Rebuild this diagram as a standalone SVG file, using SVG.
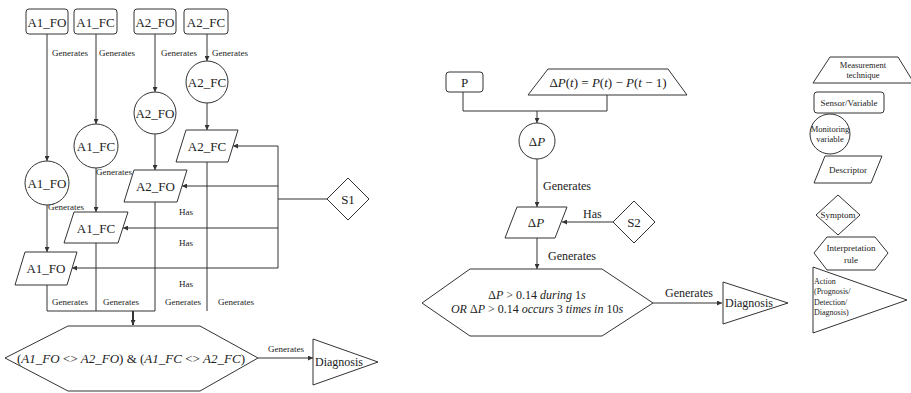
<svg xmlns="http://www.w3.org/2000/svg" width="911" height="393" viewBox="0 0 911 393" font-family="'Liberation Serif', 'Times New Roman', Times, serif">
<defs>
<marker id="ah" viewBox="0 0 6 6" refX="6" refY="3" markerWidth="5" markerHeight="5" orient="auto" markerUnits="userSpaceOnUse"><path d="M0,0L6,3L0,6z" fill="#333"/></marker>
<style>
.s{fill:#fff;stroke:#333;stroke-width:1}
.c{fill:none;stroke:#333;stroke-width:1}
.a{fill:none;stroke:#333;stroke-width:1;marker-end:url(#ah)}
text{font-family:'Liberation Serif','Times New Roman',Times,serif;fill:#222;dominant-baseline:central}
.n{font-size:13px;text-anchor:middle}
.m{font-size:12px;text-anchor:middle}
.g{font-size:9px}
.gm{font-size:12px}
.l{font-size:9px;text-anchor:middle}
.ls{font-size:8px}
.i{font-style:italic}
</style>
</defs>
<rect width="911" height="393" fill="#fff"/>

<g id="connectors">
<path class="a" d="M47,34V161"/>
<path class="a" d="M96,34V124"/>
<path class="a" d="M155,34V92"/>
<path class="a" d="M207,34V61"/>
<path class="a" d="M207,103V130"/>
<path class="a" d="M155,134V170"/>
<path class="a" d="M96,168V212"/>
<path class="a" d="M47,205V252"/>
<path class="c" d="M327,199H278M278,146V268"/>
<path class="a" d="M278,146H233"/>
<path class="a" d="M278,186H182"/>
<path class="a" d="M278,228H123"/>
<path class="a" d="M278,268H72"/>
<path class="c" d="M47,285V311M96,243V311M155,202V311M207,162V311M47,311H155"/>
<path class="a" d="M133,311V325" style="stroke-width:2"/>
<path class="a" d="M258,358H313"/>
<path class="c" d="M463,92V111M607,95V111M463,111H607"/>
<path class="a" d="M537,111V123"/>
<path class="a" d="M537,159V207"/>
<path class="a" d="M613,222H562"/>
<path class="a" d="M537,238V269"/>
<path class="a" d="M653,303H722"/>

<g id="edge-labels">
<text class="g" x="52" y="53">Generates</text>
<text class="g" x="99" y="53">Generates</text>
<text class="g" x="161" y="53">Generates</text>
<text class="g" x="212" y="53">Generates</text>
<text class="g" x="96" y="172">Generates</text>
<text class="g" x="48" y="207">Generates</text>
<text class="l" x="186" y="212">Has</text>
<text class="l" x="186" y="243">Has</text>
<text class="l" x="186" y="284">Has</text>
<text class="g" x="52" y="302">Generates</text>
<text class="g" x="103" y="302">Generates</text>
<text class="g" x="165" y="302">Generates</text>
<text class="g" x="218" y="302">Generates</text>
<text class="g" x="268" y="349">Generates</text>
<text class="gm" x="543" y="186">Generates</text>
<text class="gm" x="583" y="214">Has</text>
<text class="gm" x="548" y="256">Generates</text>
<text class="gm" x="665" y="293">Generates</text>
</g>
</g>

<g id="box-a1fo"><rect class="s" x="26" y="9" width="42" height="25" rx="3"/><text class="n" x="47" y="22">A1_FO</text></g>
<g id="box-a1fc"><rect class="s" x="74" y="9" width="43" height="25" rx="3"/><text class="n" x="95.5" y="22">A1_FC</text></g>
<g id="box-a2fo"><rect class="s" x="134" y="9" width="42" height="25" rx="3"/><text class="n" x="155" y="22">A2_FO</text></g>
<g id="box-a2fc"><rect class="s" x="184" y="9" width="44" height="25" rx="3"/><text class="n" x="206" y="22">A2_FC</text></g>

<g id="circ-a2fc"><circle class="s" cx="207" cy="82" r="21"/><text class="n" x="207" y="82">A2_FC</text></g>
<g id="circ-a2fo"><circle class="s" cx="155" cy="113" r="21"/><text class="n" x="155" y="113">A2_FO</text></g>
<g id="circ-a1fc"><circle class="s" cx="96" cy="146" r="22"/><text class="n" x="96" y="146">A1_FC</text></g>
<g id="circ-a1fo"><circle class="s" cx="47" cy="183" r="22"/><text class="n" x="47" y="183">A1_FO</text></g>

<g id="desc-a2fc"><path class="s" d="M186,130H238L228,162H176Z"/><text class="n" x="207" y="146">A2_FC</text></g>
<g id="desc-a2fo"><path class="s" d="M134,170H187L177,202H124Z"/><text class="n" x="155.5" y="186">A2_FO</text></g>
<g id="desc-a1fc"><path class="s" d="M74,212H128L118,243H64Z"/><text class="n" x="96" y="228">A1_FC</text></g>
<g id="desc-a1fo"><path class="s" d="M25,252H77L67,285H15Z"/><text class="n" x="46" y="268">A1_FO</text></g>

<g id="sym-s1"><path class="s" d="M348,178L369,199L348,220L327,199Z"/><text class="n" x="348" y="199">S1</text></g>

<g id="rule-left"><path class="s" d="M5,358L68,326H200L258,358L200,391H68Z"/>
<text class="n" x="131" y="358">(<tspan class="i">A1_FO</tspan> &lt;&gt; <tspan class="i">A2_FO</tspan>) &amp; (<tspan class="i">A1_FC</tspan> &lt;&gt; <tspan class="i">A2_FC</tspan>)</text></g>

<g id="diag-left"><path class="s" d="M313,339V385L378,362Z"/><text class="gm" x="315" y="362">Diagnosis</text></g>

<g id="box-p"><rect class="s" x="446" y="72" width="37" height="20" rx="3"/><text class="n" x="464.5" y="82">P</text></g>
<g id="tech-dp"><path class="s" d="M528,95L548,69H668L687,95Z"/>
<text class="n" x="608" y="82">Δ<tspan class="i">P</tspan>(<tspan class="i">t</tspan>) = <tspan class="i">P</tspan>(<tspan class="i">t</tspan>) − <tspan class="i">P</tspan>(<tspan class="i">t</tspan> − 1)</text></g>
<g id="circ-dp"><circle class="s" cx="537" cy="141" r="18"/><text class="n" x="537" y="141">Δ<tspan class="i">P</tspan></text></g>
<g id="desc-dp"><path class="s" d="M517,207H567L555,238H505Z"/><text class="n" x="536" y="222">Δ<tspan class="i">P</tspan></text></g>
<g id="sym-s2"><path class="s" d="M634,201L655,222L634,243L613,222Z"/><text class="n" x="634" y="222">S2</text></g>
<g id="rule-mid"><path class="s" d="M422,303L470,269H602L653,303L602,336H470Z"/>
<text class="m" x="537" y="295">Δ<tspan class="i">P</tspan> &gt; 0.14 <tspan class="i">during</tspan> 1<tspan class="i">s</tspan></text>
<text class="m" x="537" y="309"><tspan class="i">OR</tspan> Δ<tspan class="i">P</tspan> &gt; 0.14 <tspan class="i">occurs</tspan> 3 <tspan class="i">times in</tspan> 10<tspan class="i">s</tspan></text></g>
<g id="diag-mid"><path class="s" d="M723,282V324L788,303Z"/><text class="gm" x="725" y="303">Diagnosis</text></g>

<g id="leg-technique"><path class="s" d="M813,83L830,57H898L914,83Z"/><text class="l" x="863" y="65" style="font-size:8.5px">Measurement</text><text class="l" x="863" y="75" style="font-size:8.5px">technique</text></g>
<g id="leg-sensor"><rect class="s" x="814" y="92" width="70" height="21" rx="3"/><text class="l" x="849" y="102.5">Sensor/Variable</text></g>
<g id="leg-monitor"><circle class="s" cx="830" cy="134" r="20"/><text class="l" x="830" y="129" style="font-size:8.5px">Monitoring</text><text class="l" x="830" y="139" style="font-size:8.5px">variable</text></g>
<g id="leg-descriptor"><path class="s" d="M825,156H882L871,183H814Z"/><text class="l" x="848" y="169.5">Descriptor</text></g>
<g id="leg-symptom"><path class="s" d="M838,195L860,215L838,235L816,215Z"/><text class="l" x="838" y="215">Symptom</text></g>
<g id="leg-rule"><path class="s" d="M814,253L827,237H875L888,253L875,270H827Z"/><text class="l" x="851" y="248">Interpretation</text><text class="l" x="851" y="260">rule</text></g>
<g id="leg-action"><path class="s" d="M813,267V333L907,300Z"/>
<text class="ls" x="814" y="281">Action</text><text class="ls" x="814" y="291">(Prognosis/</text><text class="ls" x="814" y="302">Detection/</text><text class="ls" x="814" y="312">Diagnosis)</text></g>
</svg>
